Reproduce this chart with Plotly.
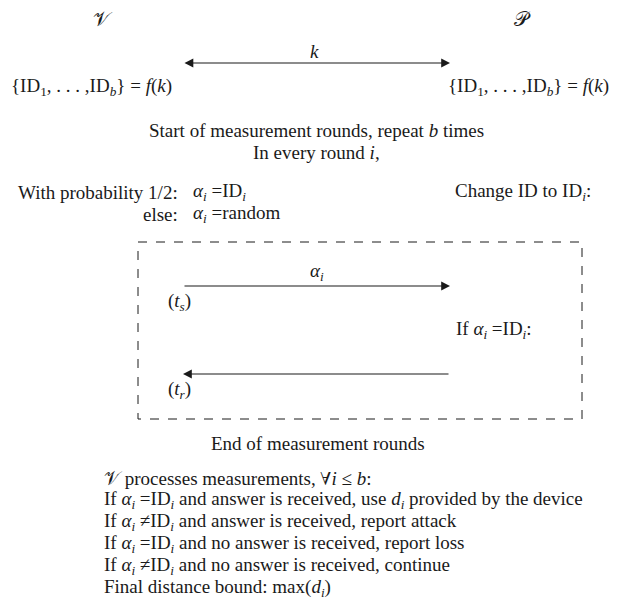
import plotly.graph_objects as go

W, H = 624, 606
M = 8  # default body margin of the html page
FONT = "Liberation Serif"
FS = 19
INK = "#1a1a1a"

# ---- text content ----
parties = ["𝒱", "𝒫"]
key_label = "<i>k</i>"
id_set = "{ID<sub>1</sub>, . . . ,ID<sub><i>b</i></sub>} = <i>f</i>(<i>k</i>) "
round_header = ["Start of measurement rounds, repeat <i>b</i> times",
                "In every round <i>i</i>,"]
choice_cond = ["With probability 1/2:", "else:"]
choice_val = ["<i>α<sub>i</sub></i> =ID<sub><i>i</i></sub>",
              "<i>α<sub>i</sub></i> =random"]
prover_change = "Change ID to ID<sub><i>i</i></sub>:"
msg_label = "<i>α<sub>i</sub></i>"
t_send = "(<i>t<sub>s</sub></i>)"
t_recv = "(<i>t<sub>r</sub></i>)"
prover_cond = "If <i>α<sub>i</sub></i> =ID<sub><i>i</i></sub>:"
round_end = "End of measurement rounds"
process_lines = [
    "𝒱 processes measurements, ∀<i>i</i> ≤ <i>b</i>:",
    "If <i>α<sub>i</sub></i> =ID<sub><i>i</i></sub> and answer is received, use <i>d<sub>i</sub></i> provided by the device",
    "If <i>α<sub>i</sub></i> ≠ID<sub><i>i</i></sub> and answer is received, report attack",
    "If <i>α<sub>i</sub></i> =ID<sub><i>i</i></sub> and no answer is received, report loss",
    "If <i>α<sub>i</sub></i> ≠ID<sub><i>i</i></sub> and no answer is received, continue",
    "Final distance bound: max(<i>d<sub>i</sub></i>)",
]

fig = go.Figure()
ann = []

def txt(x, y, s, anchor="left", size=FS):
    ann.append(dict(x=x, y=y, xref="x", yref="y", text=s, showarrow=False,
                    xanchor=anchor, yanchor="middle",
                    font=dict(family=FONT, size=size, color=INK)))

def arrow(x0, x1, y, both=False):
    ann.append(dict(x=x1, y=y, ax=x0, ay=y, xref="x", yref="y", axref="x", ayref="y",
                    text="", showarrow=True, arrowhead=2, startarrowhead=2,
                    arrowside="end+start" if both else "end",
                    arrowsize=1.6, startarrowsize=1.6, arrowwidth=1.1, arrowcolor=INK))

txt(103, 19, parties[0], "center", 20)
txt(522, 19, parties[1], "center", 20)
arrow(183, 450, 63, both=True)
txt(314, 51, key_label, "center")
txt(9, 87, id_set)
txt(616, 87, id_set, "right")
txt(316, 130, round_header[0], "center")
txt(316, 152, round_header[1], "center")
txt(180, 192, choice_cond[0], "right")
txt(180, 214, choice_cond[1], "right")
txt(191, 192, choice_val[0])
txt(191, 214, choice_val[1])
txt(453, 192, prover_change)

fig.add_shape(type="rect", x0=138, x1=582, y0=242, y1=419, xref="x", yref="y",
              line=dict(color=INK, width=1, dash="dash"))
arrow(183, 450, 286)
txt(317, 272, msg_label, "center")
txt(166, 302, t_send)
txt(454, 330, prover_cond)
arrow(450, 183, 374)
txt(166, 390, t_recv)
txt(318, 443, round_end, "center")

for i, line in enumerate(process_lines):
    txt(102, 478 + 22 * i, line)

fig.update_layout(annotations=ann, width=W - M, height=H - M,
                  margin=dict(l=0, r=0, t=0, b=0),
                  paper_bgcolor="white", plot_bgcolor="white", showlegend=False,
                  xaxis=dict(range=[M, W], visible=False, fixedrange=True),
                  yaxis=dict(range=[H, M], visible=False, fixedrange=True))
fig.write_html("out.html")
